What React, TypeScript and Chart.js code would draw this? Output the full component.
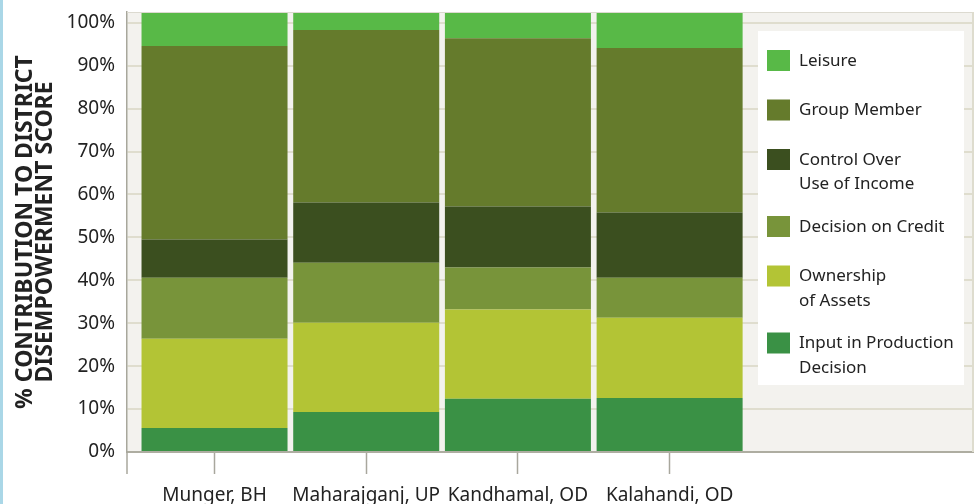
import React, { useEffect, useRef } from "react";
import { Chart, registerables } from "chart.js";

Chart.register(...registerables);

const categories = ["Munger, BH", "Maharajganj, UP", "Kandhamal, OD", "Kalahandi, OD"];

// stacked from bottom to top (values in % of the axis)
const inputProduction = [5.6, 9.3, 12.4, 12.6];
const ownershipAssets = [20.8, 20.8, 20.8, 18.7];
const decisionCredit = [14.2, 14.0, 9.8, 9.3];
const controlIncome = [8.9, 14.0, 14.2, 15.2];
const groupMember = [45.1, 40.2, 39.2, 38.3];
const leisure = [7.9, 4.2, 6.1, 8.4];

const seriesNames = [
  "Input in Production\nDecision",
  "Ownership\nof Assets",
  "Decision on Credit",
  "Control Over\nUse of Income",
  "Group Member",
  "Leisure",
];
const seriesValues = [inputProduction, ownershipAssets, decisionCredit, controlIncome, groupMember, leisure];
const seriesColors = ["#3a9145", "#b3c435", "#78943a", "#3b4f1f", "#657b2c", "#58b947"];

const yTicks = [0, 10, 20, 30, 40, 50, 60, 70, 80, 90, 100];
const yTitle = ["% CONTRIBUTION TO DISTRICT", "DISEMPOWERMENT SCORE"];

const FONT = "'Noto Sans', sans-serif";

const backgroundPlugin = {
  id: "plotBackground",
  beforeDraw(chart: any) {
    const { ctx, chartArea: a } = chart;
    ctx.save();
    ctx.fillStyle = "#f3f2ee";
    ctx.fillRect(a.left, a.top, a.right - a.left, a.bottom - a.top);
    ctx.restore();
  },
  afterDatasetsDraw(chart: any) {
    const { ctx, chartArea: a } = chart;
    ctx.save();
    ctx.strokeStyle = "#dcdad0";
    ctx.lineWidth = 1;
    ctx.beginPath();
    ctx.moveTo(a.left, a.top + 0.5);
    ctx.lineTo(a.right, a.top + 0.5);
    ctx.stroke();
    ctx.strokeStyle = "#dedcce";
    ctx.lineWidth = 2;
    ctx.beginPath();
    ctx.moveTo(a.right, a.top);
    ctx.lineTo(a.right, a.bottom);
    ctx.stroke();
    // left axis line continues below the plot like a tick mark
    ctx.strokeStyle = "#a8a79d";
    ctx.lineWidth = 1.5;
    ctx.beginPath();
    ctx.moveTo(a.left, a.bottom);
    ctx.lineTo(a.left, a.bottom + 22);
    ctx.stroke();
    ctx.restore();
  },
};

const legendPlugin = {
  id: "boxLegend",
  afterDraw(chart: any) {
    const { ctx, chartArea: a } = chart;
    const ds = chart.data.datasets;
    const lx = a.right - 215;
    const ly = a.top + 19;
    const lw = 206;
    const lh = 354;
    ctx.save();
    ctx.fillStyle = "#ffffff";
    ctx.fillRect(lx, ly, lw, lh);
    let y = ly + 19;
    ctx.font = `17px ${FONT}`;
    ctx.textBaseline = "middle";
    ctx.textAlign = "left";
    for (let i = ds.length - 1; i >= 0; i--) {
      const lines = String(ds[i].label).split("\n");
      ctx.fillStyle = ds[i].backgroundColor;
      ctx.fillRect(lx + 9, y, 23, 21);
      ctx.fillStyle = "#222222";
      lines.forEach((t: string, k: number) => ctx.fillText(t, lx + 41, y + 11 + k * 24.5));
      y += lines.length > 1 ? 67 : 49.5;
    }
    ctx.restore();
  },
};

export default function App() {
  const ref = useRef<HTMLCanvasElement>(null);

  useEffect(() => {
    if (!ref.current) return;
    Chart.defaults.font.family = FONT;
    const chart = new Chart(ref.current, {
      type: "bar",
      data: {
        datasets: seriesNames.map((name, s) => ({
          label: name,
          data: seriesValues[s].map((v, i) => ({ x: i, y: v })),
          backgroundColor: seriesColors[s],
          borderWidth: 0,
          barPercentage: 0.9625,
          categoryPercentage: 1,
        })),
      },
      options: {
        responsive: false,
        animation: false,
        layout: { padding: { top: 12, right: 4, left: 0, bottom: 0 } },
        plugins: { legend: { display: false }, tooltip: { enabled: false } },
        scales: {
          x: {
            type: "linear",
            min: -0.577,
            max: 5.0,
            stacked: true,
            offset: false,
            afterBuildTicks: (s: any) => {
              s.ticks = categories.map((_, i) => ({ value: i }));
            },
            ticks: {
              autoSkip: false,
              maxRotation: 0,
              padding: 10,
              color: "#222222",
              font: { size: 19 },
              callback: (v: any) => (Number.isInteger(v) && categories[v] !== undefined ? categories[v] : ""),
            },
            grid: {
              offset: false,
              drawOnChartArea: false,
              drawTicks: true,
              tickLength: 22,
              tickColor: "#a8a79d",
              tickWidth: 1.5,
            },
            border: { display: true, color: "#aeada1", width: 2 },
            afterFit: (s: any) => {
              s.height = 52;
              s.paddingLeft = 0;
              s.paddingRight = 0;
            },
          },
          y: {
            type: "linear",
            min: 0,
            max: 102.5,
            stacked: true,
            afterBuildTicks: (s: any) => {
              s.ticks = yTicks.map((v) => ({ value: v }));
            },
            ticks: {
              includeBounds: false,
              padding: 12,
              color: "#222222",
              font: { size: 19 },
              callback: (v: any) => `${v}%`,
            },
            grid: { color: "#dfddce", lineWidth: 2, drawTicks: false },
            border: { display: true, color: "#a8a79c", width: 1.5 },
            title: {
              display: true,
              text: yTitle,
              color: "#222222",
              font: { size: 23, weight: "bold", lineHeight: 0.89 },
              padding: { top: 15, bottom: 0 },
            },
            afterFit: (s: any) => {
              s.width = 127;
              s.paddingTop = 0;
              s.paddingBottom = 0;
            },
          },
        },
      } as any,
      plugins: [backgroundPlugin, legendPlugin],
    });
    return () => chart.destroy();
  }, []);

  return (
    <div style={{ position: "absolute", left: 0, top: 0, width: 977, height: 504, background: "#ffffff" }}>
      <canvas ref={ref} width={977} height={504} style={{ display: "block" }} />
      <div style={{ position: "absolute", left: 0, top: 0, width: 3, height: 504, background: "#aad7e7" }} />
    </div>
  );
}
